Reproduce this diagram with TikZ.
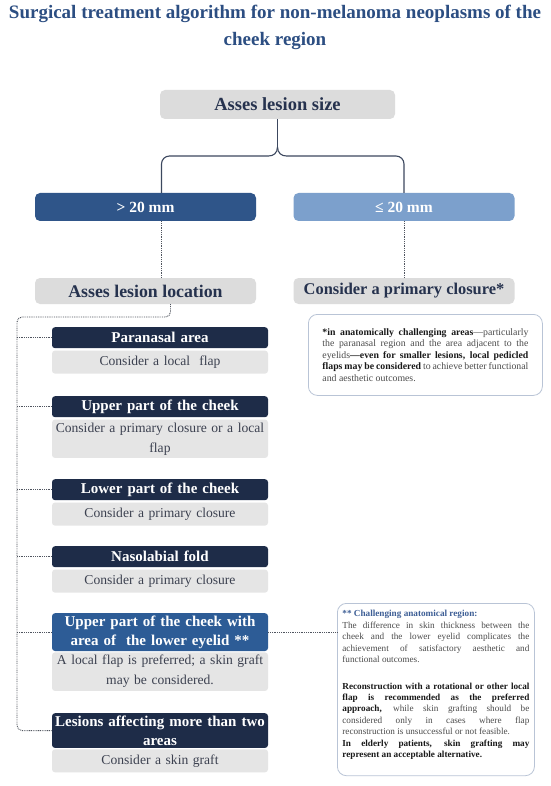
\documentclass[tikz,border=0pt]{standalone}
\usepackage{fontspec}
\setmainfont{Liberation Serif}
\usetikzlibrary{positioning,calc}
\definecolor{ttlblue}{RGB}{44,78,130}
\definecolor{navytx}{RGB}{38,50,78}
\definecolor{askgray}{RGB}{220,220,220}
\definecolor{pale}{RGB}{229,229,229}
\definecolor{bigblue}{RGB}{47,85,137}
\definecolor{smallblue}{RGB}{124,160,204}
\definecolor{navyhd}{RGB}{30,44,72}
\definecolor{lidblue}{RGB}{45,92,150}
\definecolor{bodytx}{RGB}{60,65,80}
\definecolor{linkc}{RGB}{60,72,95}
\definecolor{dotc}{RGB}{80,85,95}
\definecolor{noteline}{RGB}{185,196,214}
\definecolor{notetx}{RGB}{75,75,75}
\definecolor{notebold}{RGB}{25,25,25}
\definecolor{notettl}{RGB}{62,95,150}
\newcommand{\notebf}[1]{{\bfseries\color{notebold}#1}}

\begin{document}
\begin{tikzpicture}[x=1pt, y=-1pt,
  ttl/.style={text=ttlblue, font=\fontsize{19}{27}\selectfont\bfseries, align=center},
  ask/.style={fill=askgray, rounded corners=5pt, text=navytx, minimum width=221pt,
    minimum height=26pt, inner sep=2pt, font=\fontsize{17}{20}\selectfont\bfseries},
  size/.style={rounded corners=5pt, text=white, minimum width=221pt, minimum height=28pt,
    inner sep=2pt, font=\fontsize{15.5}{18}\selectfont\bfseries},
  head/.style={fill=navyhd, rounded corners=3pt, text=white, text width=210pt, align=center,
    inner xsep=3pt, inner ysep=2.5pt, minimum height=21pt,
    font=\fontsize{15}{19}\selectfont\bfseries},
  act/.style={fill=pale, rounded corners=3pt, text=bodytx, text width=210pt, align=center,
    inner xsep=3pt, inner ysep=3pt, minimum height=23pt, font=\fontsize{13.6}{20}\selectfont},
  note/.style={draw=noteline, line width=0.8pt, fill=white, rounded corners=9pt,
    text=notetx, align=justify, anchor=north west},
  link/.style={draw=linkc, line width=1.1pt},
  dots/.style={draw=dotc, line width=0.9pt, dash pattern=on 0.9pt off 0.9pt}]
\fill[white] (0,0) rectangle (550,786);
\useasboundingbox (0,0) rectangle (550,786);

\node[ttl] (title) at (275,27) {Surgical treatment algorithm for non-melanoma neoplasms of the\\cheek region};

% size question and the two branches
\node[ask, minimum width=235pt, minimum height=29pt, font=\fontsize{18.5}{20}\selectfont\bfseries]
  (sizeq) at (277.5,104.5) {Asses lesion size};
\node[size, fill=bigblue] (big) at (145.5,207) {> 20 mm};
\node[size, fill=smallblue] (small) at (404,207) {≤ 20 mm};
\node[ask, font=\fontsize{17.8}{20}\selectfont\bfseries] (locq) at (145.5,291) {Asses lesion location};
\node[ask, font=\fontsize{16.4}{20}\selectfont\bfseries] (primq) at (404,291) {Consider a primary closure*};

\coordinate (fork) at (277.5,147);
\draw[link] (sizeq.south) -- (fork);
\draw[link] (fork) .. controls +(0,6) and +(5,0) .. ++(-9,9)
  [rounded corners=8pt] -| ([xshift=16pt]big.north);
\draw[link] (fork) .. controls +(0,6) and +(-5,0) .. ++(9,9)
  [rounded corners=8pt] -| (small.north);
\draw[dots] ([xshift=16pt]big.south) -- ([xshift=16pt]locq.north);
\draw[dots] (small.south) -- (primq.north);

\node[note, text width=206pt, inner xsep=14pt, inner ysep=9pt, minimum height=81pt,
  font=\fontsize{9.8}{11.6}\selectfont] (note1) at (308,314)
  {\hyphenpenalty=10000\relax
   \notebf{*in anatomically challenging areas}—particularly the paranasal region and the area
   adjacent to the eyelids\notebf{—even for smaller lesions, local pedicled flaps may be
   considered} to achieve better functional and aesthetic outcomes.\par};

% locations
\node[head, anchor=north] (para) at (160,327) {Paranasal area};
\node[act, below=2pt of para] (paraact) {Consider a local\ \ flap};
\node[head, anchor=north] (upper) at (160,396) {Upper part of the cheek};
\node[act, below=2pt of upper] (upperact) {Consider a primary closure or a local\\flap};
\node[head, anchor=north] (lower) at (160,479) {Lower part of the cheek};
\node[act, below=2pt of lower] (loweract) {Consider a primary closure};
\node[head, anchor=north] (naso) at (160,546) {Nasolabial fold};
\node[act, below=2pt of naso] (nasoact) {Consider a primary closure};
\node[head, anchor=north, fill=lidblue] (lid) at (160,613)
  {Upper part of the cheek with\\area of\ \ the lower eyelid **};
\node[act, below=1pt of lid] (lidact) {A local flap is preferred; a skin graft\\may be considered.};
\node[head, anchor=north] (multi) at (160,713) {Lesions affecting more than two\\areas};
\node[act, below=1pt of multi] (multiact) {Consider a skin graft};

\coordinate (rail) at (17,317);
\draw[dots, rounded corners=5pt] ([xshift=25pt]locq.south) |- (rail) |- (multi.west);
\foreach \n in {para,upper,lower,naso,lid}
  \draw[dots] (\n.west -| rail) -- (\n.west);

\node[note, text width=187pt, inner xsep=5pt, inner ysep=7pt,
  font=\fontsize{9.2}{11.45}\selectfont] (note2) at (337,603)
  {\hyphenpenalty=10000\tolerance=9999\relax
   {\color{notettl}\bfseries ** Challenging anatomical region:}\\
   The difference in skin thickness between the\linebreak cheek and the lower eyelid
   complicates the\linebreak achievement of satisfactory aesthetic and\linebreak
   functional outcomes.\par\vspace{15pt}
   \notebf{Reconstruction with a rotational or other local\linebreak flap is recommended as
   the preferred\linebreak approach,} while skin grafting should be\linebreak considered only
   in cases where flap\linebreak reconstruction is unsuccessful or not feasible.\par
   \notebf{In elderly patients, skin grafting may\linebreak represent an acceptable
   alternative.}\par
   \vspace{9pt}\hrule height 0pt width 0pt\relax};
\draw[dots] (lid.east) -- (lid.east -| note2.west);
\end{tikzpicture}
\end{document}
